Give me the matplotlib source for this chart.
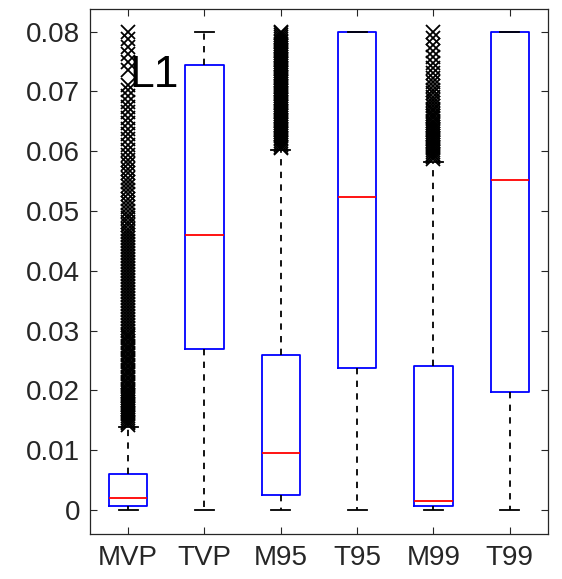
import matplotlib
matplotlib.use("Agg")
import matplotlib.pyplot as plt

plt.rcParams['font.family'] = ['Liberation Sans', 'DejaVu Sans']

labels = ["MVP", "TVP", "M95", "T95", "M99", "T99"]
whislo = [0.0, 0.0, 0.0, 0.0, 0.0, 0.0]
q1 = [0.0007, 0.0269, 0.0026, 0.0237, 0.0007, 0.0198]
med = [0.0021, 0.0460, 0.0095, 0.0524, 0.0016, 0.0552]
q3 = [0.0061, 0.0744, 0.0259, 0.0800, 0.0241, 0.0800]
whishi = [0.0139, 0.0800, 0.0602, 0.0800, 0.0582, 0.0800]

# outliers
mvp_fliers = [
    0.0142, 0.0145, 0.0148, 0.0151, 0.0154, 0.0157, 0.0160, 0.0163, 0.0166, 0.0169,
    0.0172, 0.0175, 0.0178, 0.0181, 0.0184, 0.0187, 0.0190, 0.0193, 0.0196, 0.0199,
    0.0203, 0.0207, 0.0211, 0.0215, 0.0219, 0.0223, 0.0227, 0.0231, 0.0235, 0.0239,
    0.0243, 0.0247, 0.0251, 0.0255, 0.0259, 0.0263, 0.0267, 0.0271, 0.0275, 0.0279,
    0.0283, 0.0287, 0.0291, 0.0295, 0.0300, 0.0305, 0.0310, 0.0315, 0.0320, 0.0325,
    0.0330, 0.0335, 0.0340, 0.0345, 0.0350, 0.0355, 0.0360, 0.0365, 0.0370, 0.0375,
    0.0380, 0.0385, 0.0390, 0.0395, 0.0400, 0.0405, 0.0410, 0.0415, 0.0420, 0.0425,
    0.0430, 0.0435, 0.0440, 0.0445, 0.0450, 0.0455, 0.0460, 0.0465, 0.0470, 0.0476,
    0.0482, 0.0488, 0.0494, 0.0500, 0.0507, 0.0514, 0.0521, 0.0528, 0.0535, 0.0542,
    0.0549, 0.0556, 0.0563, 0.0570, 0.0578, 0.0586, 0.0594, 0.0602, 0.0611, 0.0620,
    0.0629, 0.0638, 0.0647, 0.0656, 0.0665, 0.0674, 0.0683, 0.0692, 0.0702, 0.0711,
    0.0736, 0.0749, 0.0762, 0.0775, 0.0788, 0.0800,
]
m95_fliers = [
    0.0605, 0.0608, 0.0611, 0.0614, 0.0617, 0.0620, 0.0623, 0.0626, 0.0629, 0.0632,
    0.0635, 0.0638, 0.0641, 0.0644, 0.0647, 0.0650, 0.0653, 0.0656, 0.0659, 0.0662,
    0.0665, 0.0668, 0.0671, 0.0674, 0.0677, 0.0680, 0.0683, 0.0686, 0.0689, 0.0692,
    0.0695, 0.0698, 0.0701, 0.0704, 0.0707, 0.0710, 0.0713, 0.0716, 0.0719, 0.0722,
    0.0725, 0.0728, 0.0731, 0.0734, 0.0737, 0.0740, 0.0743, 0.0746, 0.0749, 0.0752,
    0.0755, 0.0758, 0.0761, 0.0764, 0.0767, 0.0770, 0.0773, 0.0776, 0.0779, 0.0782,
    0.0785, 0.0788, 0.0791, 0.0794, 0.0797, 0.0800,
]
m99_fliers = [
    0.0587, 0.0590, 0.0593, 0.0596, 0.0599, 0.0602, 0.0605, 0.0608, 0.0611, 0.0614,
    0.0617, 0.0620, 0.0623, 0.0626, 0.0629, 0.0632, 0.0635, 0.0638, 0.0641, 0.0644,
    0.0647, 0.0651, 0.0655, 0.0659, 0.0663, 0.0667, 0.0671, 0.0676, 0.0681, 0.0686,
    0.0691, 0.0697, 0.0703, 0.0709, 0.0716, 0.0723, 0.0731, 0.0739, 0.0748, 0.0757,
    0.0767, 0.0778, 0.0789, 0.0800,
]
fliers = [mvp_fliers, [], m95_fliers, [], m99_fliers, []]

stats = []
for i in range(len(labels)):
    stats.append(dict(label=labels[i], whislo=whislo[i], q1=q1[i], med=med[i],
                      q3=q3[i], whishi=whishi[i], fliers=fliers[i]))

fig = plt.figure(figsize=(5.62, 5.79), dpi=100)
ax = fig.add_axes([0.160, 0.0777, 0.815, 0.9068])

ax.bxp(stats, widths=0.5,
       boxprops=dict(color="#0000ff", linewidth=1.3),
       medianprops=dict(color="#ff0000", linewidth=1.3),
       whiskerprops=dict(color="black", linestyle=(0, (3.5, 3.5)), linewidth=1.3),
       capprops=dict(color="black", linewidth=1.3),
       capwidths=0.25,
       flierprops=dict(marker="x", markeredgecolor="black", markersize=10.5,
                       markeredgewidth=1.3, linestyle="none"))

ax.set_xlim(0.5, 6.5)
ax.set_ylim(-0.004, 0.0838)
ax.set_yticks([0, 0.01, 0.02, 0.03, 0.04, 0.05, 0.06, 0.07, 0.08])
ax.set_yticklabels(["0", "0.01", "0.02", "0.03", "0.04", "0.05", "0.06", "0.07", "0.08"])
ax.tick_params(direction="in", length=5, width=0.8, labelsize=20, colors="#262626",
               top=True, right=True)
ax.tick_params(axis="y", pad=7)
ax.tick_params(axis="x", pad=8)
for s in ax.spines.values():
    s.set_color("#262626")
    s.set_linewidth(0.9)

ax.text(1.02, 0.0726, "L1", fontsize=32, va="center", ha="left", color="black")

fig.savefig("out.png", dpi=100)
